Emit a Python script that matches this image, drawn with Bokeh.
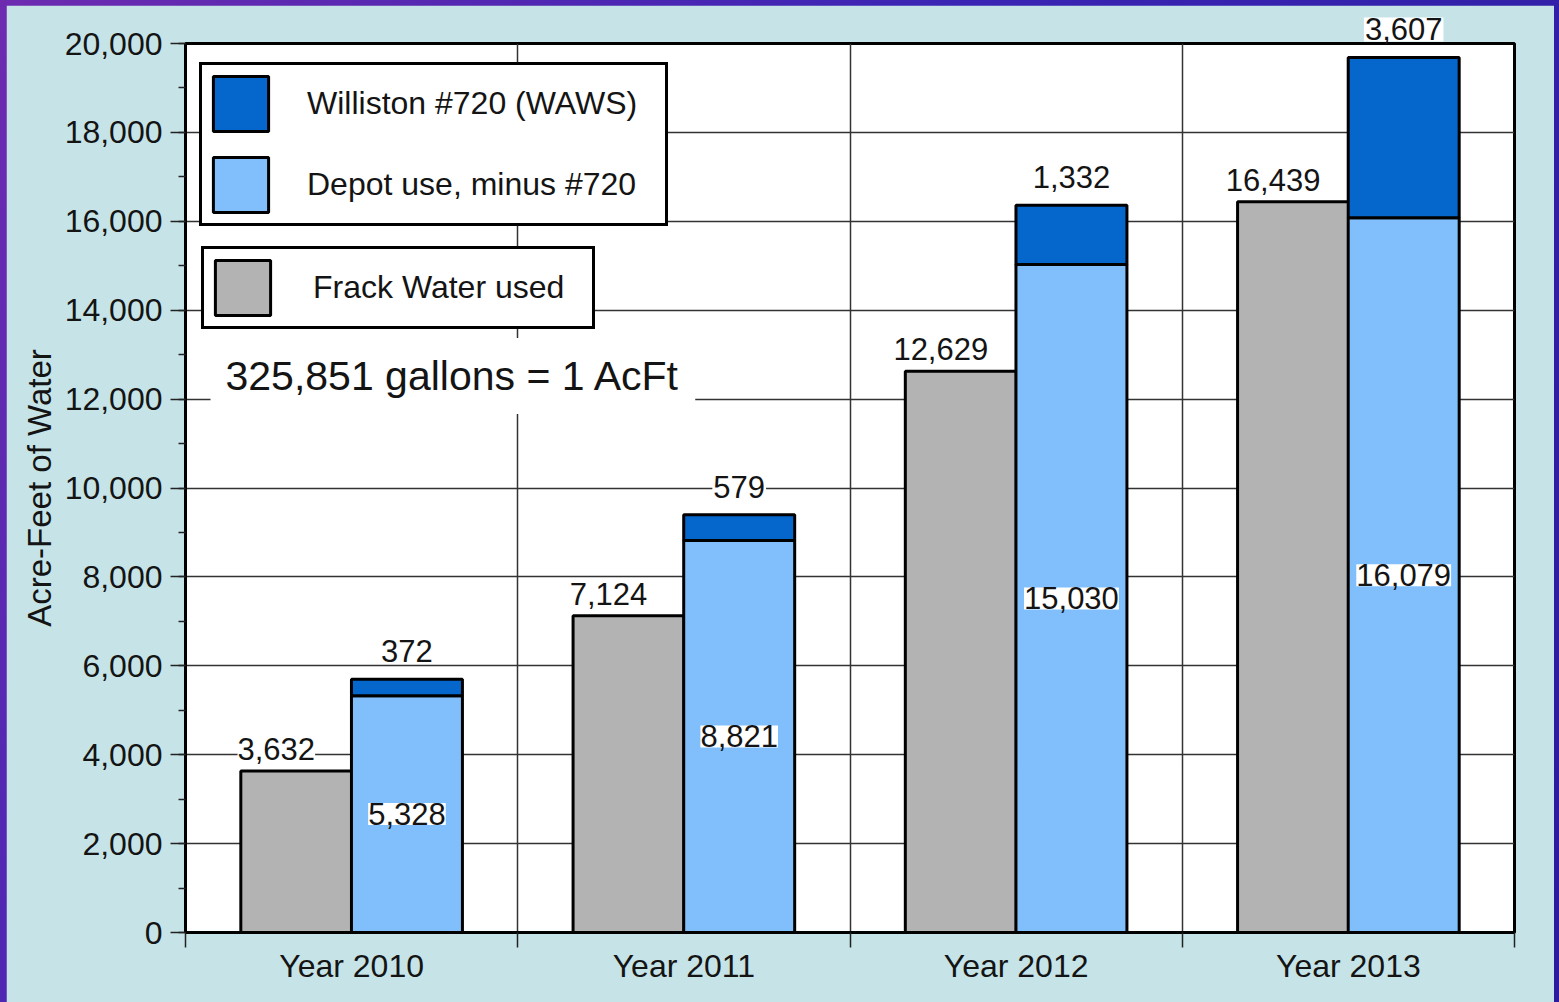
from bokeh.plotting import figure
from bokeh.models import (Range1d, ColumnDataSource, LabelSet, Label, Legend, LegendItem,
                          LinearAxis, FixedTicker, Grid, NumeralTickFormatter, SingleIntervalTicker)
from bokeh.core.properties import value
from bokeh.transform import dodge
from bokeh.layouts import column
from bokeh.embed import file_html
from bokeh.resources import INLINE

# ---------------- data ----------------
years = ["Year 2010", "Year 2011", "Year 2012", "Year 2013"]
frack = [3632, 7124, 12629, 16439]          # Frack Water used
depot = [5328, 8821, 15030, 16079]          # Depot use, minus #720
williston = [372, 579, 1332, 3607]          # Williston #720 (WAWS)
y_ticks_max = 20000
note_text = "325,851 gallons = 1 AcFt"

# ---------------- styles ----------------
FONT = "Liberation Sans"
GRAY = "#b3b3b3"
LIGHT = "#80bffc"
DARK = "#0566cc"
BG = "#c6e4e8"
TXT = "#141414"

n = len(years)
centers = [i + 0.5 for i in range(n)]       # category slot centres
total = [d + w for d, w in zip(depot, williston)]
src = ColumnDataSource(dict(
    xc=centers, frack=frack, depot=depot, williston=williston, total=total,
    depot_mid=[d / 2 for d in depot],
    frack_lbl=[f"{v:,}" for v in frack],
    depot_lbl=[f"{v:,}" for v in depot],
    will_lbl=[f"{v:,}" for v in williston],
))

p = figure(x_range=Range1d(0, n), y_range=Range1d(0, y_ticks_max),
           width=1548, height=997, output_backend="svg", toolbar_location=None,
           x_axis_location=None, min_border_left=179, min_border_right=40,
           min_border_top=38, min_border_bottom=70)
p.border_fill_color = BG
p.background_fill_color = "white"
p.outline_line_color = "black"
p.outline_line_width = 3
p.xgrid.visible = False

xaxis = LinearAxis(ticker=FixedTicker(ticks=centers, minor_ticks=list(range(n + 1))),
                   major_label_overrides={c: y for c, y in zip(centers, years)})
xaxis.major_tick_out = 0
xaxis.major_tick_in = 0
xaxis.minor_tick_out = 15
xaxis.minor_tick_in = 0
xaxis.minor_tick_line_color = "#222"
xaxis.minor_tick_line_width = 1.5
xaxis.axis_line_color = "black"
xaxis.axis_line_width = 3
xaxis.major_label_text_font = FONT
xaxis.major_label_text_font_size = "32px"
xaxis.major_label_text_color = TXT
xaxis.major_label_standoff = 0
p.add_layout(xaxis, "below")

vgrid = Grid(dimension=0, ticker=FixedTicker(ticks=list(range(1, n))),
             grid_line_color="#333", grid_line_width=1.5)
p.add_layout(vgrid)

yax = p.yaxis[0]
yax.ticker = SingleIntervalTicker(interval=2000, num_minor_ticks=2)
yax.formatter = NumeralTickFormatter(format="0,0")
yax.major_tick_out = 15
yax.major_tick_in = 0
yax.minor_tick_out = 7
yax.minor_tick_in = 0
yax.major_tick_line_width = 1.5
yax.minor_tick_line_width = 1.5
yax.major_tick_line_color = "#222"
yax.minor_tick_line_color = "#222"
yax.axis_line_color = "black"
yax.axis_line_width = 3
yax.major_label_text_font = FONT
yax.major_label_text_font_size = "32px"
yax.major_label_text_color = TXT
yax.major_label_standoff = 8
yax.axis_label = "Acre-Feet of Water"
yax.axis_label_text_font = FONT
yax.axis_label_text_font_size = "33px"
yax.axis_label_text_font_style = "normal"
yax.axis_label_text_color = TXT
yax.axis_label_standoff = 4

p.ygrid.grid_line_color = "#333"
p.ygrid.grid_line_width = 1.5
p.ygrid.ticker = SingleIntervalTicker(interval=2000)

# ---------------- bars ----------------
off = 0.1665
bw = 0.334
r_f = p.vbar(x=dodge("xc", -off), top="frack", width=bw, source=src,
             fill_color=GRAY, line_color="black", line_width=3)
r_d = p.vbar(x=dodge("xc", off), bottom=0, top="depot", width=bw, source=src,
             fill_color=LIGHT, line_color="black", line_width=3)
r_w = p.vbar(x=dodge("xc", off), bottom="depot", top="total", width=bw, source=src,
             fill_color=DARK, line_color="black", line_width=3)

# ---------------- labels ----------------
LBL_SIZE = "31px"
lbl_kw = dict(source=src, text_font=value(FONT), text_font_size=value(LBL_SIZE), text_color=TXT,
              text_align="center", text_baseline="middle", background_fill_color="white")
p.add_layout(LabelSet(x=dodge("xc", -off), y="frack", text="frack_lbl",
                      x_offset=-20, y_offset=22, **lbl_kw))
p.add_layout(LabelSet(x=dodge("xc", off), y="depot_mid", text="depot_lbl", **lbl_kw))

# Williston labels; one that would cross the top of the frame goes in the
# (unclipped) "above" panel, still positioned by the data scales.
for c, t, w in zip(centers, total, williston):
    lab = Label(x=c + off, y=t, text=f"{w:,}", y_offset=28, text_font=FONT,
                text_font_size=LBL_SIZE, text_color=TXT, text_align="center",
                text_baseline="middle", background_fill_color="white", padding=1)
    p.add_layout(lab, "above" if t > 0.95 * y_ticks_max else "center")

p.add_layout(Label(x=0.0753, y=12520, text=note_text, text_font=FONT,
                   text_font_size="41px", text_color=TXT, text_align="left", text_baseline="middle",
                   background_fill_color="white", padding=15))

# ---------------- legends ----------------
leg_kw = dict(glyph_width=69, glyph_height=69, label_text_font=FONT, label_text_font_size="32px",
              label_text_color=TXT, padding=4, spacing=12, margin=0,
              border_line_color="black", border_line_width=3, border_line_alpha=1.0,
              background_fill_color="white", background_fill_alpha=1.0)
leg1 = Legend(items=[LegendItem(label="Williston #720 (WAWS)", renderers=[r_w]),
                     LegendItem(label="Depot use, minus #720", renderers=[r_d])],
              location=(14, 706), label_standoff=32, label_width=354, **leg_kw)
leg2 = Legend(items=[LegendItem(label="Frack Water used", renderers=[r_f])],
              location=(16, 603), label_standoff=36, label_width=275, **leg_kw)
p.add_layout(leg1)
p.add_layout(leg2)

layout = column(p, styles={"padding": "5px 5px 0px 6px",
                           "background": "linear-gradient(120deg, #6d2bb0 0%, #3a24b4 45%, #2a1c9c 100%)"})

open("out.html", "w").write(file_html(layout, INLINE))
